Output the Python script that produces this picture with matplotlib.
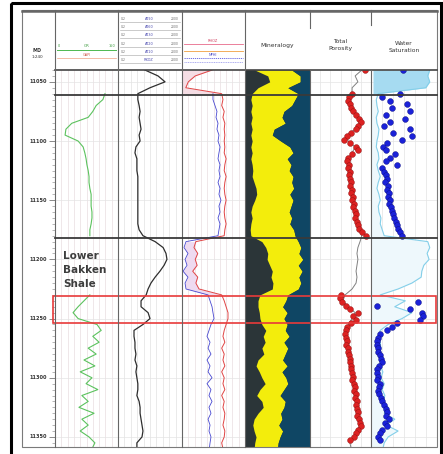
import numpy as np
import matplotlib
matplotlib.use("Agg")
import matplotlib.pyplot as plt
from matplotlib.patches import Rectangle
from matplotlib.transforms import blended_transform_factory
from matplotlib.ticker import MultipleLocator

nan = np.nan

# ---------------- data ----------------
depth = np.arange(11040, 11361, 5)           # sample depths (ft)
depth_ticks = [11050, 11100, 11150, 11200, 11250, 11300, 11350]
formation_tops = [11061, 11182]
zone_top, zone_base = 11231, 11254            # highlighted interval
shale_label = "Lower\nBakken\nShale"

gr = [nan, nan, nan, nan,
      119, 114, 98, 90, 79, 40, 26, 24, 55, 67, 71, 74, 76, 79, 81, 81, 83, 86, 86, 86, 88, 88, 86, 83, 83,
      nan, nan, nan, nan, nan, nan, nan, nan, nan,
      83, 69, 55, 43, 55, 100, 110, 90, 105, 79, 98, 69, 95, 60, 88, 74, 102, 64, 79, 57, 93, 64, 79, 60, 81, 95,
      88]

res = [84, 125, 147, 100,
       62, 62, 66, 69, 66, 69, 72, 66, 69, 56, 53, 59, 59, 59, 62, 62, 62, 62, 62, 62, 62, 62, 62, 66, 78,
       116, 141, 150, 153, 144, 131, 116, 103, 94,
       88, 72, 72, 94, 100, 78, 50, 50, 53, 53, 56, 53, 59, 56, 59, 62, 62, 59, 66, 69, 69, 72, 75, 78, 75, 59,
       59]

rhob = [2.43, 2.16, 2.05, 2.01,
        2.58, 2.60, 2.58, 2.62, 2.60, 2.63, 2.62, 2.63, 2.62, 2.63, 2.62, 2.65, 2.63, 2.62, 2.65, 2.63, 2.62,
        2.63, 2.65, 2.63, 2.62, 2.63, 2.65, 2.63, 2.62,
        2.17, 2.14, 2.20, 2.16, 2.19, 2.12, 2.20, 2.17, 2.22,
        2.58, 2.62, 2.65, 2.68, 2.68, 2.65, 2.62, 2.60, 2.63, 2.58, 2.62, 2.60, 2.63, 2.58, 2.62, 2.60, 2.63,
        2.58, 2.62, 2.60, 2.63, 2.62, 2.60, 2.63, 2.62, 2.58,
        2.60]

nphi = [nan, nan, nan, nan,
        0.155, 0.155, 0.136, 0.117, 0.126, 0.107, 0.117, 0.098, 0.107, 0.088, 0.098, 0.107, 0.088, 0.098,
        0.088, 0.107, 0.088, 0.098, 0.079, 0.098, 0.088, 0.107, 0.088, 0.098, 0.107,
        0.412, 0.431, 0.393, 0.421, 0.402, 0.440, 0.393, 0.421, 0.412,
        0.202, 0.183, 0.164, 0.155, 0.145, 0.174, 0.193, 0.212, 0.183, 0.202, 0.174, 0.212, 0.183, 0.202,
        0.164, 0.212, 0.174, 0.193, 0.164, 0.193, 0.174, 0.202, 0.183, 0.193, 0.174, 0.183,
        0.19]

min_b1 = [0.15, 0.35, 0.38, 0.20,
          0.11, 0.09, 0.11, 0.09, 0.11, 0.09, 0.11, 0.09, 0.11, 0.09, 0.11, 0.09, 0.11, 0.12, 0.11, 0.14,
          0.17, 0.18, 0.15, 0.11, 0.09, 0.11, 0.09, 0.08, 0.09,
          0.26, 0.32, 0.35, 0.34, 0.38, 0.42, 0.40, 0.43, 0.42,
          0.23, 0.20, 0.20, 0.22, 0.23, 0.26, 0.32, 0.28, 0.31, 0.26, 0.29, 0.20, 0.17, 0.22, 0.26, 0.31,
          0.23, 0.18, 0.26, 0.28, 0.20, 0.14, 0.12, 0.14, 0.17, 0.15,
          0.14]

min_b2 = [0.72, 0.85, 0.85, 0.66,
          0.82, 0.77, 0.72, 0.60, 0.57, 0.62, 0.45, 0.42, 0.55, 0.69, 0.74, 0.65, 0.71, 0.68, 0.74, 0.72,
          0.75, 0.69, 0.74, 0.71, 0.68, 0.72, 0.69, 0.75, 0.77,
          0.82, 0.86, 0.83, 0.89, 0.82, 0.88, 0.83, 0.86, 0.82,
          0.66, 0.63, 0.58, 0.65, 0.60, 0.65, 0.62, 0.68, 0.60, 0.66, 0.62, 0.58, 0.65, 0.57, 0.63, 0.66,
          0.60, 0.54, 0.62, 0.60, 0.55, 0.57, 0.52, 0.58, 0.54, 0.51,
          0.50]

phi_curve = [0.030, 0.052, 0.043, 0.062,
             0.062, 0.072, 0.066, 0.059, 0.043, 0.039, 0.052, 0.079, 0.075, 0.052, 0.062, 0.075, 0.072,
             0.069, 0.072, 0.066, 0.066, 0.062, 0.062, 0.056, 0.052, 0.049, 0.046, 0.039, 0.030,
             0.036, 0.043, 0.046, 0.043, 0.046, 0.049, 0.046, 0.049, 0.062,
             0.085, 0.092, 0.075, 0.052, 0.062, 0.075, 0.082, 0.082, 0.079, 0.075, 0.072, 0.069, 0.066,
             0.062, 0.062, 0.056, 0.056, 0.052, 0.049, 0.046, 0.046, 0.039, 0.036, 0.046, 0.056, 0.069,
             0.065]

sw_curve = [0.89, 0.86, 0.89, 0.83,
            0.11, 0.08, 0.09, 0.11, 0.08, 0.09, 0.12, 0.11, 0.09, 0.08, 0.11, 0.12, 0.09, 0.11, 0.14, 0.11,
            0.09, 0.12, 0.14, 0.11, 0.12, 0.15, 0.14, 0.17, 0.20,
            0.86, 0.89, 0.85, 0.88, 0.80, 0.77, 0.76, 0.62, 0.41,
            0.14, 0.52, 0.36, 0.62, 0.47, 0.26, 0.14, 0.11, 0.14, 0.15, 0.12, 0.17, 0.14, 0.18, 0.15, 0.20,
            0.17, 0.21, 0.18, 0.26, 0.20, 0.36, 0.23, 0.41, 0.26, 0.20,
            0.18]

# core / computed points
dots_top_depth = [11040]
phi_dots_top = [0.020]
sw_dots_top = [0.48]

dots_upper_depth = np.arange(11060, 11181, 3)
phi_dots_upper = [0.062, 0.072, 0.075, 0.069, 0.066, 0.059, 0.049, 0.039, 0.033, 0.043,
                  0.049, 0.066, 0.079, 0.089, 0.069, 0.049, 0.043, 0.062, 0.075, 0.079,
                  0.072, 0.075, 0.069, 0.072, 0.069, 0.066, 0.069, 0.062, 0.066, 0.059,
                  0.062, 0.056, 0.059, 0.052, 0.049, 0.052, 0.046, 0.043, 0.039, 0.030, 0.016]
sw_dots_upper = [0.44, 0.17, 0.29, 0.55, 0.32, 0.59, 0.23, 0.52, 0.29, 0.20,
                 0.59, 0.33, 0.62, 0.47, 0.24, 0.18, 0.23, 0.36, 0.29, 0.23,
                 0.39, 0.17, 0.20, 0.23, 0.24, 0.21, 0.26, 0.24, 0.27, 0.26,
                 0.29, 0.27, 0.30, 0.32, 0.33, 0.35, 0.38, 0.39, 0.41, 0.44, 0.47]

phi_lower_depth = np.arange(11230, 11354, 3)
phi_dots_lower = [0.098, 0.102, 0.095, 0.082, 0.069, 0.043, 0.059, 0.049, 0.066, 0.079,
                  0.082, 0.085, 0.082, 0.079, 0.082, 0.075, 0.075, 0.072, 0.069, 0.069,
                  0.066, 0.066, 0.062, 0.059, 0.062, 0.056, 0.052, 0.056, 0.049, 0.052,
                  0.046, 0.049, 0.046, 0.043, 0.046, 0.039, 0.036, 0.033, 0.043, 0.049,
                  0.056, 0.069]
sw_lower_depth = np.arange(11236, 11354, 3)
sw_dots_lower = [0.71, 0.09, 0.59, 0.77, 0.79, 0.74, 0.39, 0.32, 0.24, 0.14,
                 0.11, 0.09, 0.09, 0.11, 0.11, 0.14, 0.15, 0.17, 0.12, 0.09,
                 0.09, 0.11, 0.09, 0.14, 0.12, 0.11, 0.12, 0.15, 0.17, 0.20,
                 0.23, 0.24, 0.23, 0.27, 0.21, 0.24, 0.17, 0.14, 0.11, 0.14]

# ---------------- figure ----------------
W, H = 443, 454
fig = plt.figure(figsize=(W / 100, H / 100), dpi=100)
fig.patch.set_facecolor("white")


def rect(x0, x1, y0, y1):
    return [x0 / W, 1 - y1 / H, (x1 - x0) / W, (y1 - y0) / H]


Y0, Y1 = 70, 447
DTOP, DBOT = 11040, 11358.5
edges = [22, 55, 118, 182, 245, 310, 371, 437]
axes = []
for i in range(7):
    ax = fig.add_axes(rect(edges[i], edges[i + 1], Y0, Y1))
    ax.set_ylim(DBOT, DTOP)
    for s in ax.spines.values():
        s.set_visible(False)
    axes.append(ax)

ax0, ax1, ax2, ax3, ax4, ax5, ax6 = axes
depth = np.asarray(depth)

# depth track
ax0.set_xlim(0, 1)
ax0.set_xticks([])
ax0.yaxis.set_ticks_position("right")
ax0.set_yticks(depth_ticks)
ax0.yaxis.set_minor_locator(MultipleLocator(5))
ax0.tick_params(axis="y", which="major", direction="in", length=4, width=0.6, color="#777777", labelright=False)
ax0.tick_params(axis="y", which="minor", direction="in", length=2, width=0.5, color="#999999")
tr0 = blended_transform_factory(ax0.transAxes, ax0.transData)
for t in depth_ticks:
    ax0.text(0.48, t, f"{t}", transform=tr0, ha="center", va="center", fontsize=3.6,
             color="#333333", fontweight="bold")


def grid_track(ax, xmin, xmax, n, col="#e9dde0"):
    ax.set_xlim(xmin, xmax)
    ax.set_xticks(np.linspace(xmin, xmax, n + 1))
    ax.set_yticks(depth_ticks)
    ax.tick_params(length=0, labelleft=False, labelbottom=False)
    ax.grid(axis="x", color=col, lw=0.5)
    ax.grid(axis="y", color="#e4e4e4", lw=0.5)
    ax.set_axisbelow(True)


# track 1 : GR
grid_track(ax1, 0, 150, 10)
ax1.plot(gr, depth, color="#5cc25e", lw=0.8)

# track 2 : resistivity
grid_track(ax2, 0, 200, 10, col="#e2e2e2")
ax2.plot(res, depth, color="#2e2e2e", lw=0.9)

# track 3 : density / neutron
grid_track(ax3, 1.95, 2.95, 10)
ax3b = ax3.twiny()
ax3b.set_xlim(0.45, -0.15)
ax3b.set_ylim(DBOT, DTOP)
for s in ax3b.spines.values():
    s.set_visible(False)
ax3b.tick_params(length=0, labeltop=False, labelbottom=False)
rhob_a = np.asarray(rhob)
nphi_on_rhob = 1.95 + (0.45 - np.asarray(nphi)) / 0.6
top_mask = depth <= formation_tops[0]
shale_mask = (depth >= formation_tops[1]) & (depth <= zone_top)
ax3.fill_betweenx(depth, 1.95, rhob_a, where=top_mask, color="#f5dde4", lw=0)
ax3.fill_betweenx(depth, nphi_on_rhob, rhob_a, where=shale_mask, color="#eedaf0", lw=0)
ax3.plot(rhob, depth, color="#e04545", lw=0.7)
ax3b.plot(nphi, depth, color="#4848d0", lw=0.6)

# track 4 : mineralogy
ax4.set_xlim(0, 1)
ax4.set_xticks([])
ax4.set_yticks([])
ax4.set_facecolor("#2b3538")
ax4.fill_betweenx(depth, 0, min_b1, color="#2b3538", lw=0)
ax4.fill_betweenx(depth, min_b1, min_b2, color="#f3ed0c", lw=0)
ax4.fill_betweenx(depth, min_b2, 1, color="#0f4664", lw=0)

# track 5 : total porosity
grid_track(ax5, 0.2, 0.0, 6, col="#e3e3e3")
ax5.plot(phi_curve, depth, color="#808080", lw=0.7)
dot_kw = dict(ls="none", marker="o", ms=4.2, mew=0.3)
for dd, vv in [(dots_top_depth, phi_dots_top), (dots_upper_depth, phi_dots_upper),
               (phi_lower_depth, phi_dots_lower)]:
    ax5.plot(vv, dd, color="#dc2222", mec="#8c1212", **dot_kw)

# track 6 : water saturation
grid_track(ax6, 0, 1, 6, col="#e3e3e3")
sw_a = np.asarray(sw_curve)
ax6.fill_betweenx(depth, 0, sw_a, where=~top_mask, color="#eef8fc", lw=0)
ax6.fill_betweenx(depth, 0.03, sw_a, where=top_mask, color="#a6dbf1", lw=0)
ax6.plot(sw_curve, depth, color="#84cfe9", lw=0.8)
for dd, vv in [(dots_top_depth, sw_dots_top), (dots_upper_depth, sw_dots_upper),
               (sw_lower_depth, sw_dots_lower)]:
    ax6.plot(vv, dd, color="#1b22d8", mec="#0a0c80", **dot_kw)

# ---------------- overlay (frame, header, markers) ----------------
ov = fig.add_axes([0, 0, 1, 1])
ov.set_xlim(0, W)
ov.set_ylim(H, 0)
ov.axis("off")
ov.set_zorder(10)
ov.patch.set_alpha(0)
TrD = blended_transform_factory(ov.transData, ax1.transData)

ov.add_patch(Rectangle((11, 3), 430, 460, fill=False, ec="black", lw=2.2, clip_on=False))
ov.add_patch(Rectangle((22, 10), 415, 437, fill=False, ec="#7a7a7a", lw=0.8))
ov.plot([22, 437], [10.5, 10.5], color="#666666", lw=1.8)
ov.plot([55, 437], [70, 70], color="#444444", lw=1.2)
for x in [55, 118, 182, 245]:
    ov.plot([x, x], [10, 447], color="#666666", lw=0.8)
ov.plot([310, 310], [10, 28], color="#666666", lw=0.8)
ov.plot([310, 310], [70, 447], color="#666666", lw=0.8)
ov.plot([371, 371], [10, 25], color="#666666", lw=0.8)
ov.plot([371, 371], [70, 447], color="#666666", lw=0.8)

for d in formation_tops:
    ov.plot([55, 437], [d, d], transform=TrD, color="#3a3a3a", lw=1.3)
ov.add_patch(Rectangle((53, zone_top), 383, zone_base - zone_top, transform=TrD,
                       fill=False, ec="#e83a3a", lw=1.2))

ov.text(63, 270, shale_label, ha="left", va="center", fontsize=7.5, fontweight="bold",
        color="#3d3d3d", linespacing=1.45)

# header: depth
ov.text(37, 51, "MD", ha="center", va="center", fontsize=3.5, fontweight="bold", color="#333333")
ov.text(37, 57, "1:240", ha="center", va="center", fontsize=3, color="#333333")

# header: track 1
ov.plot([57, 116], [50, 50], color="#4db84f", lw=0.7)
ov.text(86.5, 48, "GR", ha="center", va="bottom", fontsize=2.8, color="#3a9a3c")
ov.text(58, 48, "0", ha="left", va="bottom", fontsize=2.5, color="#3a9a3c")
ov.text(115, 48, "150", ha="right", va="bottom", fontsize=2.5, color="#3a9a3c")
ov.plot([57, 116], [58, 58], color="#f0a080", lw=0.5)
ov.text(86.5, 56.5, "GAPI", ha="center", va="bottom", fontsize=2.5, color="#d06050")

# header: track 2
for yy, lab in zip([22, 30, 38, 47, 55, 63], ["AT90", "AT60", "AT30", "AT20", "AT10", "RXOZ"]):
    ov.plot([120, 180], [yy, yy], color="#b5b5b5", lw=0.5)
    ov.text(149, yy - 1, lab, ha="center", va="bottom", fontsize=2.5, color="#4a4ab0")
    ov.text(121, yy - 1, "0.2", ha="left", va="bottom", fontsize=2.2, color="#666666")
    ov.text(179, yy - 1, "2000", ha="right", va="bottom", fontsize=2.2, color="#666666")

# header: track 3
ov.plot([184, 243], [44, 44], color="#e86a8a", lw=0.6)
ov.text(213, 42.5, "RHOZ", ha="center", va="bottom", fontsize=2.5, color="#d04060")
ov.plot([184, 243], [51, 51], color="#f0a040", lw=0.6)
ov.plot([184, 243], [58, 58], color="#5a5ae0", lw=0.6, ls=(0, (1.5, 1)))
ov.text(213, 56.5, "NPHI", ha="center", va="bottom", fontsize=2.5, color="#4040c0")
ov.plot([184, 243], [62, 62], color="#8a8ae8", lw=0.5, ls=(0, (1.5, 1)))

# header: tracks 4-6
ov.text(277.5, 45, "Mineralogy", ha="center", va="center", fontsize=4.3, color="#333333")
ov.text(340.5, 45, "Total\nPorosity", ha="center", va="center", fontsize=4.3, color="#333333",
        linespacing=1.6)
ov.text(404, 47, "Water\nSaturation", ha="center", va="center", fontsize=4.3, color="#333333",
        linespacing=1.6)

fig.savefig("out.png", dpi=100)
